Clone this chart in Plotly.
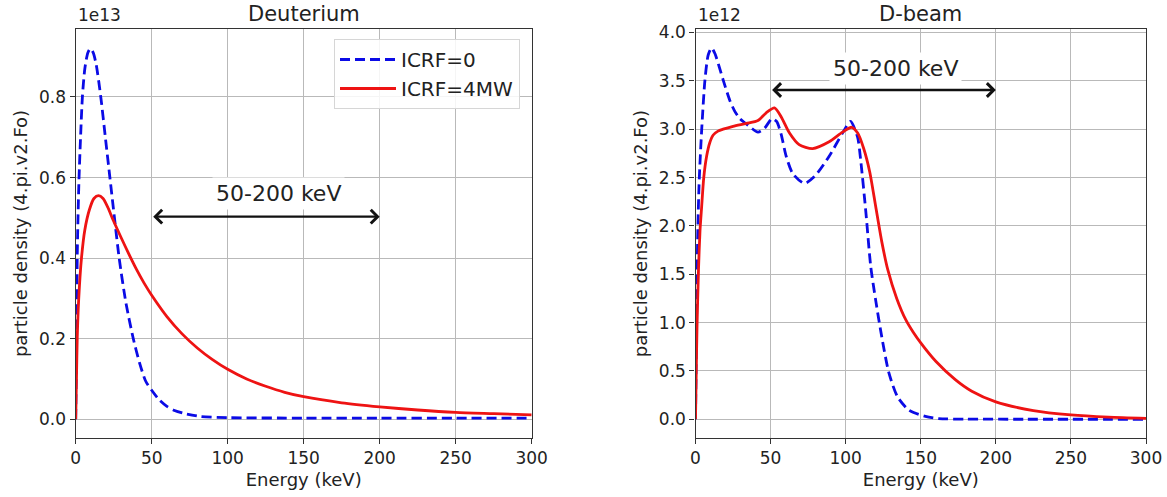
import plotly.graph_objects as go

W, H = 1167, 497

# ---------------- data (left: Deuterium, values in units of 1e13) ----------------
deut_E_icrf0 = [0, 0.3, 0.6, 1.0, 1.5, 2.2, 3.2, 4.4, 6, 8, 9.7, 11.5, 13.5, 16.5, 19.5,
                22.5, 25.5, 28.6, 33, 37.9, 42, 46, 50, 55, 60, 65, 71, 82, 100, 150,
                200, 250, 300]
deut_F_icrf0 = [0, 0.1, 0.2, 0.4, 0.5, 0.6, 0.7, 0.8, 0.87, 0.91, 0.92, 0.91, 0.88, 0.8, 0.7,
                0.6, 0.5, 0.4, 0.29, 0.2, 0.14, 0.095, 0.072, 0.048, 0.032, 0.022, 0.015, 0.007,
                0.004, 0.003, 0.003, 0.003, 0.003]

deut_E_icrf4 = [0, 0.5, 1, 2, 3.8, 6, 9, 12, 15, 18, 21, 24.7, 30, 35, 40, 45, 50, 60, 70,
                80, 90, 100, 112.5, 125, 137.5, 150, 175, 200, 225, 250, 275, 300]
deut_F_icrf4 = [0, 0.1, 0.2, 0.3, 0.4, 0.47, 0.52, 0.548, 0.555, 0.548, 0.527, 0.494, 0.45,
                0.41, 0.372, 0.338, 0.308, 0.255, 0.212, 0.177, 0.148, 0.124, 0.1, 0.082,
                0.067, 0.056, 0.041, 0.031, 0.023, 0.017, 0.014, 0.011]

# ---------------- data (right: D-beam, values in units of 1e12) ----------------
beam_E_icrf0 = [0, 0.5, 1, 1.6, 2.5, 4.1, 6.3, 8.5, 10.7, 13, 15.5, 18.4, 22.8, 26, 29.5,
                35, 41.6, 46, 51, 54, 57, 60.4, 64.8, 72.5, 79.2, 89, 97.9, 103.2, 107.9,
                110, 113.4, 116.7, 120, 124.4, 128.8, 134.5, 142.1, 153.1, 162, 180, 220, 300]
beam_F_icrf0 = [0, 0.7, 1.4, 2.0, 2.48, 2.99, 3.51, 3.77, 3.84, 3.78, 3.66, 3.51, 3.30, 3.19,
                3.11, 3.04, 2.97, 3.01, 3.11, 3.08, 2.95, 2.72, 2.54, 2.44, 2.51, 2.72, 2.96,
                3.08, 2.92, 2.68, 2.15, 1.58, 1.23, 0.82, 0.48, 0.234, 0.096, 0.03, 0.0075,
                0.002, 0.001, 0.001]

beam_E_icrf4 = [0, 0.5, 1, 2, 3, 4.1, 5.5, 7.4, 9.5, 11.8, 15, 18.4, 25, 33.8, 41.6, 47.1,
                52.6, 57, 62.6, 69, 78, 89, 97.9, 104, 108, 112, 116, 120, 124, 128,
                134, 140, 145, 150, 160, 173, 184, 200, 225, 250, 275, 300]
beam_F_icrf4 = [0, 0.5, 0.95, 1.55, 1.95, 2.2, 2.5, 2.72, 2.86, 2.94, 2.98, 3.0, 3.03, 3.06,
                3.09, 3.17, 3.22, 3.13, 2.96, 2.84, 2.80, 2.87, 2.97, 3.02, 2.96, 2.8, 2.56,
                2.2, 1.84, 1.55, 1.25, 1.03, 0.9, 0.79, 0.6, 0.41, 0.29, 0.18, 0.09, 0.045,
                0.022, 0.01]

series_names = ["ICRF=0", "ICRF=4MW"]
titles = ["Deuterium", "D-beam"]
offsets = ["1e13", "1e12"]
x_title = "Energy (keV)"
y_title = "particle density (4.pi.v2.Fo)"
band_label = "50-200 keV"
band = [50, 200]

BLUE = "#0b0be6"
RED = "#ee1313"
FONT = "DejaVu Sans"

fig = go.Figure()

def add_pair(E0, F0, E4, F4, xa, ya, show):
    fig.add_trace(go.Scatter(x=E0, y=F0, mode="lines", name=series_names[0],
                             line=dict(color=BLUE, width=2.8, dash="10px,5px", shape="spline", smoothing=0.7),
                             xaxis=xa, yaxis=ya, showlegend=show))
    fig.add_trace(go.Scatter(x=E4, y=F4, mode="lines", name=series_names[1],
                             line=dict(color=RED, width=2.8, shape="spline", smoothing=0.7),
                             xaxis=xa, yaxis=ya, showlegend=show))

add_pair(deut_E_icrf0, deut_F_icrf0, deut_E_icrf4, deut_F_icrf4, "x", "y", True)
add_pair(beam_E_icrf0, beam_F_icrf0, beam_E_icrf4, beam_F_icrf4, "x2", "y2", False)

# plot-area pixel boxes
L = (75.7, 531.7)
R = (695.5, 1146.0)
TOP, BOT = 29.3, 437.7
ydom = [(H - BOT) / H, (H - TOP) / H]

axis_common = dict(
    showgrid=True, gridcolor="#b9b9b9", gridwidth=1,
    showline=True, linecolor="#333333", linewidth=1.4, mirror=True,
    ticks="outside", ticklen=5, tickwidth=1.2, tickcolor="#333333",
    tickfont=dict(family=FONT, size=17, color="#222222"),
    zeroline=False, automargin=False,
)

fig.update_layout(
    width=W, height=H,
    margin=dict(l=0, r=0, t=0, b=0),
    paper_bgcolor="white", plot_bgcolor="white",
    font=dict(family=FONT, color="#222222"),
    xaxis=dict(domain=[L[0] / W, L[1] / W], range=[0, 300], tick0=0, dtick=50, anchor="y",
               title=dict(text=x_title, font=dict(size=18), standoff=6), **axis_common),
    yaxis=dict(domain=ydom, range=[-0.0457, 0.968], tick0=0, dtick=0.2, tickformat=".1f", anchor="x",
               title=dict(text=y_title, font=dict(size=18), standoff=6), **axis_common),
    xaxis2=dict(domain=[R[0] / W, R[1] / W], range=[0, 300], tick0=0, dtick=50, anchor="y2",
                title=dict(text=x_title, font=dict(size=18), standoff=6), **axis_common),
    yaxis2=dict(domain=ydom, range=[-0.19, 4.033], tick0=0, dtick=0.5, tickformat=".1f", anchor="x2",
                title=dict(text=y_title, font=dict(size=18), standoff=6), **axis_common),
    legend=dict(x=520 / W, y=1 - 39 / H, xanchor="right", yanchor="top",
                bgcolor="rgba(255,255,255,0.85)", bordercolor="#d6d6d6", borderwidth=1,
                font=dict(family=FONT, size=20, color="#222222"),
                itemwidth=56),
    showlegend=True,
)

ann = []
# titles and offset labels
for (x0, x1), t, off in zip([L, R], titles, offsets):
    ann.append(dict(text=t, x=(x0 + x1) / 2 / W, y=1 - 14 / H, xref="paper", yref="paper",
                    xanchor="center", yanchor="middle", showarrow=False,
                    font=dict(family=FONT, size=21, color="#222222")))
    ann.append(dict(text=off, x=x0 / W, y=1 - 15 / H, xref="paper", yref="paper",
                    xanchor="left", yanchor="middle", showarrow=False,
                    font=dict(family=FONT, size=17, color="#222222")))

# 50-200 keV arrows and labels
for xr, yr, ya_arrow, ya_text in [("x", "y", 0.503, 0.5615), ("x2", "y2", 3.405, 3.63)]:
    ann.append(dict(x=band[1], y=ya_arrow, ax=band[0], ay=ya_arrow, xref=xr, yref=yr,
                    axref=xr, ayref=yr, text="", showarrow=True, arrowhead=4,
                    startarrowhead=4, arrowside="end+start", arrowwidth=2.4, arrowsize=1.1,
                    startarrowsize=1.1, arrowcolor="#111111"))
    ann.append(dict(x=(band[0] + band[1]) / 2 + 8.3, y=ya_text, xref=xr, yref=yr,
                    text=band_label, showarrow=False, bgcolor="white", borderpad=3,
                    font=dict(family=FONT, size=22, color="#222222")))

fig.update_layout(annotations=ann)
fig.write_html("out.html")
